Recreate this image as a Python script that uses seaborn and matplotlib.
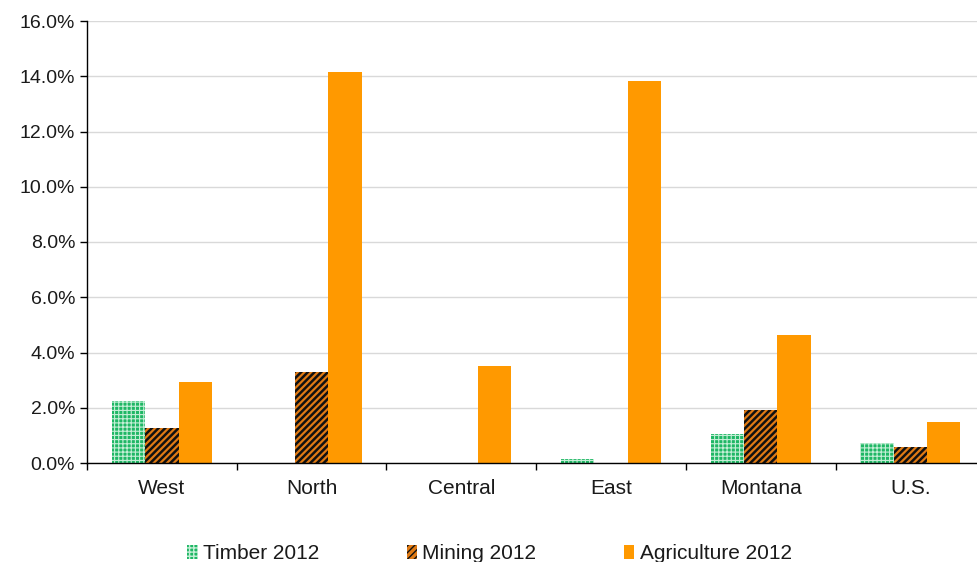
import matplotlib
matplotlib.use("Agg")
import matplotlib.pyplot as plt
import seaborn as sns
import pandas as pd
from matplotlib.ticker import PercentFormatter, FixedLocator

regions = ["West", "North", "Central", "East", "Montana", "U.S."]
series = ["Timber 2012", "Mining 2012", "Agriculture 2012"]
timber = [2.25, 0.0, 0.0, 0.14, 1.05, 0.72]
mining = [1.27, 3.30, 0.0, 0.0, 1.92, 0.58]
agriculture = [2.93, 14.17, 3.51, 13.84, 4.64, 1.49]

rows = []
for name, vals in zip(series, [timber, mining, agriculture]):
    for r, v in zip(regions, vals):
        rows.append({"Region": r, "Series": name, "Share": v})
df = pd.DataFrame(rows)

sns.set_theme(style="white")
plt.rcParams["font.family"] = ["Liberation Sans", "DejaVu Sans"]
plt.rcParams["hatch.linewidth"] = 1.0

fig = plt.figure(figsize=(9.77, 5.62), dpi=100)
ax = fig.add_axes([87 / 977, 1 - 463 / 562, 890 / 977, 442 / 562])

face = ["#1fb765", "#e07a14", "#ff9900"]
sns.barplot(data=df, x="Region", y="Share", hue="Series", order=regions,
            hue_order=series, palette=face, width=0.67, saturation=1,
            ax=ax, legend=False)

# fill patterns: light lattice on the timber bars, dark diagonals on mining
styles = [
    dict(edgecolor="#c4eed6", hatch="++++", hlw=0.8),
    dict(edgecolor="#111111", hatch="/////", hlw=1.8),
    dict(edgecolor="#ff9900", hatch=None, hlw=1.0),
]
for cont, name, st in zip(ax.containers, series, styles):
    cont.set_label(name)
    for p in cont.patches:
        p.set_edgecolor(st["edgecolor"])
        p.set_linewidth(0)
        if st["hatch"]:
            p.set_hatch(st["hatch"])
            if hasattr(p, "set_hatch_linewidth"):
                p.set_hatch_linewidth(st["hlw"])

ax.set_ylim(0, 16)
ax.set_xlim(-0.5, -0.5 + 890 / 149.7)
ax.set_yticks(range(0, 17, 2))
ax.yaxis.set_major_formatter(PercentFormatter(decimals=1))
ax.yaxis.grid(True, color="#d9d9d9", linewidth=1)
ax.set_axisbelow(True)
ax.set_xlabel("")
ax.set_ylabel("")

for s in ["top", "right"]:
    ax.spines[s].set_visible(False)
for s in ["left", "bottom"]:
    ax.spines[s].set_color("#000000")
    ax.spines[s].set_linewidth(1)

ax.tick_params(axis="y", which="major", length=5, width=1, color="#000000",
               labelsize=14, labelcolor="#1a1a1a", pad=3.5, left=True)
ax.tick_params(axis="x", which="major", length=0, labelsize=15,
               labelcolor="#1a1a1a", pad=11.5)
ax.xaxis.set_minor_locator(FixedLocator([i + 0.5 for i in range(-1, 6)]))
ax.tick_params(axis="x", which="minor", length=5, width=1, color="#000000",
               bottom=True)

fig.legend(handles=ax.containers, labels=series, loc="lower center",
           bbox_to_anchor=(0.501, -0.035), ncol=3, frameon=False,
           fontsize=15, handlelength=0.5, handleheight=0.65,
           handletextpad=0.25, columnspacing=4.2, labelcolor="#1a1a1a")

fig.savefig("out.png", dpi=100)
